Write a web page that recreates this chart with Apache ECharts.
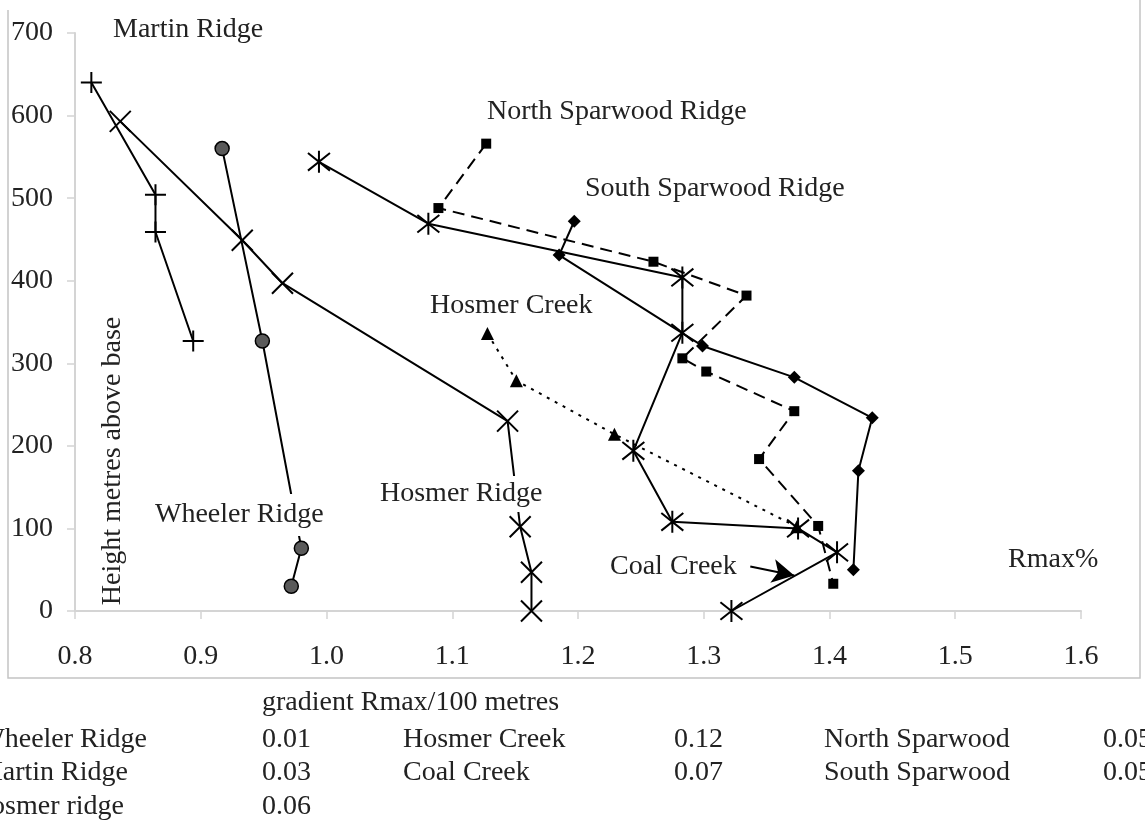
<!DOCTYPE html>
<html>
<head>
<meta charset="utf-8">
<script src="https://cdn.jsdelivr.net/npm/echarts@6/dist/echarts.min.js"></script>
<style>
html,body{margin:0;padding:0;background:#fff;}
#chart{width:1145px;height:823px;}
</style>
</head>
<body>
<div id="chart"></div>
<script>
// ---- data (Rmax %, height metres above base) ----
var martinX = [0.813, 0.864, 0.864, 0.894];
var martinY = [640, 504, 459, 327];

var hosmerRidgeX = [0.836, 0.933, 0.965, 1.144, 1.154, 1.163, 1.163];
var hosmerRidgeY = [593, 449, 397, 230, 102, 47, 0];

var wheelerX = [0.917, 0.949, 0.980, 0.972];
var wheelerY = [560, 327, 76, 30];

var coalX = [0.994, 1.081, 1.283, 1.283, 1.244, 1.275, 1.375, 1.406, 1.322];
var coalY = [544, 469, 404, 337, 194, 108, 100, 71, 0];

var northX = [1.127, 1.089, 1.260, 1.334, 1.283, 1.302, 1.372, 1.344, 1.391, 1.403];
var northY = [566, 488, 423, 382, 306, 290, 242, 184, 103, 33];

var southX = [1.197, 1.185, 1.299, 1.372, 1.434, 1.423, 1.419];
var southY = [472, 431, 321, 283, 234, 170, 50];

var hosmerCreekX = [1.128, 1.151, 1.229, 1.374];
var hosmerCreekY = [336, 279, 214, 102];

var xTicks = { min: 0.8, max: 1.6, step: 0.1 };
var yTicks = { min: 0, max: 700, step: 100 };

var gradientTitle = 'gradient Rmax/100 metres';
var gradNames1 = ['Wheeler Ridge', 'Martin Ridge', 'Hosmer ridge'];
var gradVals1 = ['0.01', '0.03', '0.06'];
var gradNames2 = ['Hosmer Creek', 'Coal Creek'];
var gradVals2 = ['0.12', '0.07'];
var gradNames3 = ['North Sparwood', 'South Sparwood'];
var gradVals3 = ['0.05', '0.05'];

function pairs(xs, ys) { return xs.map(function (x, i) { return [x, ys[i]]; }); }

var FONT = '"Liberation Serif", "Times New Roman", serif';
var TXT = '#222';
var FS = 28;

var plusPath = 'path://M0,10L20,10M10,0L10,20';
var crossPath = 'path://M0,0L20,20M20,0L0,20';
var starPath = 'path://M2,2L18,18M18,2L2,18M10,0L10,20';

function lineSeries(name, xs, ys, symbol, size, itemStyle, lineType, z) {
  return {
    name: name, type: 'line', data: pairs(xs, ys),
    symbol: symbol, symbolSize: size, showSymbol: true,
    lineStyle: { color: '#000', width: 2, type: lineType || 'solid' },
    itemStyle: itemStyle, z: z || 2, animation: false
  };
}

var series = [
  lineSeries('Martin Ridge', martinX, martinY, plusPath, 21,
    { color: '#000', borderColor: '#000', borderWidth: 2 }),
  lineSeries('Hosmer Ridge', hosmerRidgeX, hosmerRidgeY, crossPath, 21,
    { color: '#000', borderColor: '#000', borderWidth: 2 }),
  lineSeries('Wheeler Ridge', wheelerX, wheelerY, 'circle', 14,
    { color: '#5a5a5a', borderColor: '#000', borderWidth: 1.5 }),
  lineSeries('North Sparwood Ridge', northX, northY, 'rect', 10,
    { color: '#000' }, [12, 7]),
  lineSeries('South Sparwood Ridge', southX, southY, 'diamond', 13,
    { color: '#000' }),
  lineSeries('Hosmer Creek', hosmerCreekX, hosmerCreekY, 'triangle', 13,
    { color: '#000' }, [3, 6]),
  (function () {
    var s = lineSeries('Coal Creek', coalX, coalY, starPath, 22,
      { color: '#000', borderColor: '#000', borderWidth: 2 });
    s.markLine = {
      silent: true, animation: false,
      symbol: ['none', 'arrow'], symbolSize: [18, 22],
      label: { show: false },
      lineStyle: { color: '#000', width: 2, type: 'solid' },
      data: [[{ coord: [1.337, 54] }, { coord: [1.372, 43] }]]
    };
    return s;
  })()
];

function txt(x, y, text, opts) {
  opts = opts || {};
  return {
    type: 'text', x: x, y: y, z: opts.z || 10, rotation: opts.rotation || 0,
    style: {
      text: text, fill: TXT, font: FS + 'px ' + FONT,
      align: opts.align || 'left', verticalAlign: 'middle',
      backgroundColor: opts.bg || null, padding: opts.padding || 0
    }
  };
}

var graphics = [
  { type: 'polyline', z: 0, shape: { points: [[8, 10], [8, 678], [1140, 678], [1140, 0]] },
    style: { stroke: '#c4c4c4', lineWidth: 1.5, fill: null } },
  txt(113, 30, 'Martin Ridge'),
  txt(487, 112, 'North Sparwood Ridge'),
  txt(585, 189, 'South Sparwood Ridge'),
  txt(430, 306, 'Hosmer Creek'),
  txt(378, 494, 'Hosmer Ridge', { bg: '#fff', padding: [4, 2] }),
  txt(153, 515, 'Wheeler Ridge', { bg: '#fff', padding: [7, 2] }),
  txt(610, 567, 'Coal Creek'),
  txt(1008, 560, 'Rmax%'),
  txt(113, 461, 'Height metres above base', { rotation: Math.PI / 2, align: 'center' }),
  txt(262, 703, gradientTitle)
];
var rowY = [740, 773, 807];
var name1Right = [147, 128, 124];
gradNames1.forEach(function (n, i) {
  graphics.push(txt(name1Right[i], rowY[i], n, { align: 'right' }));
  graphics.push(txt(262, rowY[i], gradVals1[i]));
});
gradNames2.forEach(function (n, i) {
  graphics.push(txt(403, rowY[i], n));
  graphics.push(txt(674, rowY[i], gradVals2[i]));
});
gradNames3.forEach(function (n, i) {
  graphics.push(txt(824, rowY[i], n));
  graphics.push(txt(1103, rowY[i], gradVals3[i]));
});

var axisCommon = {
  type: 'value',
  splitLine: { show: false },
  axisLine: { show: true, onZero: false, lineStyle: { color: '#d4d4d4', width: 2 } },
  axisTick: { show: true, inside: false, length: 8, lineStyle: { color: '#d4d4d4', width: 1.5 } }
};

var chart = echarts.init(document.getElementById('chart'), null, { renderer: 'canvas' });
chart.setOption({
  animation: false,
  backgroundColor: '#fff',
  grid: { left: 75, right: 64, top: 33, bottom: 212, containLabel: false },
  xAxis: Object.assign({}, axisCommon, {
    min: xTicks.min, max: xTicks.max, interval: xTicks.step,
    axisLabel: { margin: 32, color: TXT, fontFamily: FONT, fontSize: FS,
      formatter: function (v) { return v.toFixed(1); } }
  }),
  yAxis: Object.assign({}, axisCommon, {
    min: yTicks.min, max: yTicks.max, interval: yTicks.step,
    axisLabel: { margin: 22, color: TXT, fontFamily: FONT, fontSize: FS }
  }),
  series: series,
  graphic: graphics
});
</script>
</body>
</html>
